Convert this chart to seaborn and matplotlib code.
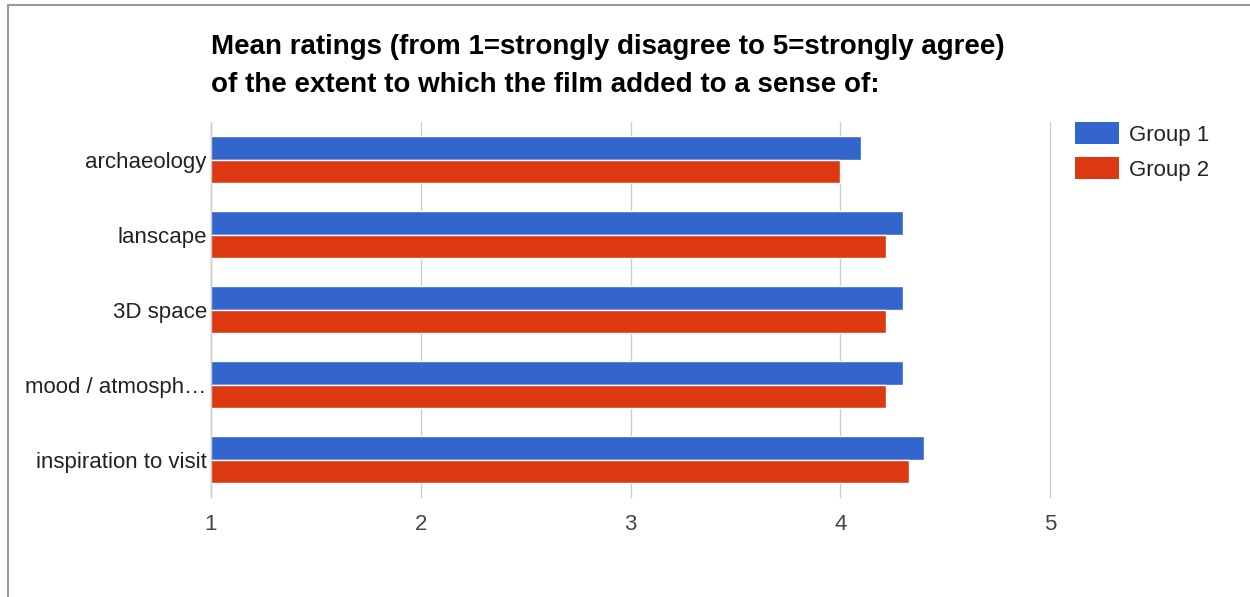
import matplotlib
matplotlib.use("Agg")
import matplotlib.pyplot as plt
import seaborn as sns
import pandas as pd
from matplotlib.lines import Line2D
from matplotlib.patches import Patch

categories = ["archaeology", "lanscape", "3D space", "mood / atmosph\u2026", "inspiration to visit"]
group1 = [4.1, 4.3, 4.3, 4.3, 4.4]
group2 = [4.0, 4.22, 4.22, 4.22, 4.33]
series_names = ["Group 1", "Group 2"]
colors = ["#3366CC", "#DC3912"]
x_ticks = [1, 2, 3, 4, 5]

df = pd.DataFrame({
    "category": categories * 2,
    "value": group1 + group2,
    "group": [series_names[0]] * len(categories) + [series_names[1]] * len(categories),
})

sns.set_theme(style="white")
plt.rcParams["font.family"] = ["Liberation Sans", "DejaVu Sans"]

fig = plt.figure(figsize=(12.5, 5.97), dpi=100)
ax = fig.add_axes([0.1688, 0.1675, 0.6712, 0.628])

sns.barplot(data=df, y="category", x="value", hue="group", order=categories,
            hue_order=series_names, palette=colors, orient="h", width=0.62,
            edgecolor="white", linewidth=1, ax=ax, legend=False, saturation=1)

ax.set_xlim(1, 5)
ax.set_xticks(x_ticks)
ax.set_xticklabels([str(t) for t in x_ticks], fontsize=16, color="#444444")
ax.tick_params(axis="x", length=0, pad=12)
ax.tick_params(axis="y", length=0, pad=3, labelsize=16, labelcolor="#222222")
ax.set_xlabel("")
ax.set_ylabel("")
for s in ["top", "right", "bottom"]:
    ax.spines[s].set_visible(False)
ax.spines["left"].set_color("#cccccc")
ax.spines["left"].set_linewidth(1)
ax.grid(axis="x", color="#cccccc", linewidth=1)
for gl in ax.get_xgridlines():
    gl.set_clip_on(False)
ax.set_axisbelow(True)

handles = [Patch(facecolor=c, edgecolor="none") for c in colors]
fig.legend(handles, series_names, loc="upper left", bbox_to_anchor=(0.86, 0.795),
           frameon=False, fontsize=16, handlelength=2.0, handleheight=1.15,
           handletextpad=0.45, labelspacing=0.5, labelcolor="#222222", borderpad=0,
           borderaxespad=0)

fig.text(0.1688, 0.889, "Mean ratings (from 1=strongly disagree to 5=strongly agree)\nof the extent to which the film added to a sense of:",
         fontsize=20, fontweight="bold", color="#000000", ha="left", va="center", linespacing=1.6)

# outer frame (top and left grey lines)
fig.add_artist(Line2D([0.0064, 1.0], [0.991, 0.991], transform=fig.transFigure, color="#999999", linewidth=1.5))
fig.add_artist(Line2D([0.0064, 0.0064], [0.0, 0.991], transform=fig.transFigure, color="#999999", linewidth=1.5))

fig.savefig("out.png", dpi=100, facecolor="white")
